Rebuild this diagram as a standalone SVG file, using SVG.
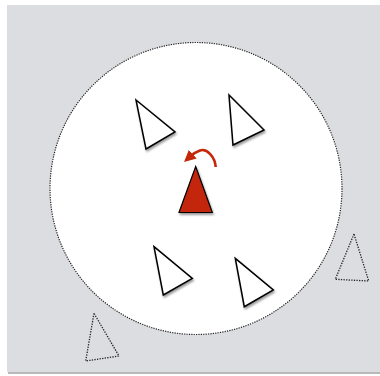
<svg xmlns="http://www.w3.org/2000/svg" width="380" height="376" viewBox="0 0 380 376">
<style>
.agent{fill:#ffffff;stroke:#000;stroke-width:1.5;stroke-linejoin:miter;filter:url(#sh)}
.ghost{fill:none;stroke:#222;stroke-width:1.3;stroke-dasharray:1.3 1.3}
.lead{fill:#c4280a;stroke:#000;stroke-width:1.2;filter:url(#sh)}
</style>
<defs>
<filter id="sh" x="-30%" y="-30%" width="160%" height="160%">
<feGaussianBlur in="SourceAlpha" stdDeviation="1.2"/>
<feOffset dx="0.5" dy="1.5" result="b"/>
<feComponentTransfer><feFuncA type="linear" slope="0.4"/></feComponentTransfer>
<feMerge><feMergeNode/><feMergeNode in="SourceGraphic"/></feMerge>
</filter>
<marker id="ah" viewBox="0 0 10 10" refX="2" refY="5" markerWidth="4.5" markerHeight="4.5" orient="auto-start-reverse">
<path d="M0,0 L10,5 L0,10 Z" fill="#c4280a"/>
</marker>
</defs>
<rect x="0" y="0" width="380" height="376" fill="#ffffff"/>
<rect x="8" y="7" width="372" height="367" fill="#8a8a8a" opacity="0.6"/>
<rect x="7" y="5" width="373" height="367" fill="#dcdde0"/>
<g id="range">
<circle cx="196" cy="188.5" r="146" fill="#ffffff" stroke="#222" stroke-width="1.2" stroke-dasharray="1.2 1.2"/>
</g>
<g id="agent1"><polygon class="agent" points="136,100 175,132 146,149"/></g>
<g id="agent2"><polygon class="agent" points="229,95 264,130 233,145"/></g>
<g id="leader"><polygon class="lead" points="195.7,166.5 179,212.5 212.3,212.5"/></g>
<g id="agent3"><polygon class="agent" points="154,246.7 192.3,278.3 163.3,295"/></g>
<g id="agent4"><polygon class="agent" points="235.3,258.3 273.3,290 244.3,306.7"/></g>
<g id="ghost1"><polygon class="ghost" points="354,234 335.3,279.3 368.7,281"/></g>
<g id="ghost2"><polygon class="ghost" points="94,313.3 85.7,361 119,356"/></g>
<g id="connectors">
<path d="M215.7,167 C215,157 207,148 200,150.5 C196,152 193,154 191,155.8" fill="none" stroke="#c4280a" stroke-width="2.6" marker-end="url(#ah)"/>
</g>
</svg>
